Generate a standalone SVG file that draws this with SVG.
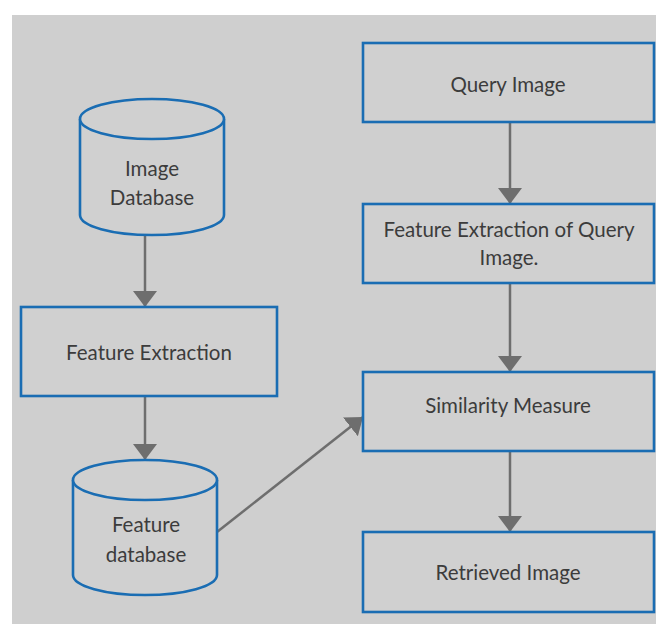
<svg xmlns="http://www.w3.org/2000/svg" width="656" height="624" viewBox="0 0 656 624">
<style>
.box{fill:#d0d0d0;stroke:#1a6db3;stroke-width:2.6}
.cyl{fill:#d0d0d0;stroke:#1a6db3;stroke-width:2.6}
.lbl{font-family:Lato,"Open Sans",sans-serif;font-size:20.5px;fill:#3c3c3c;text-anchor:middle}
.con{stroke:#6e6e6e;stroke-width:2.5;fill:none}
</style>
<defs>
<marker id="ah" viewBox="0 0 16 24" refX="16" refY="12" markerWidth="16" markerHeight="24" markerUnits="userSpaceOnUse" orient="auto">
<path d="M0,0 L16,12 L0,24 Z" fill="#6e6e6e"/>
</marker>
</defs>
<rect x="0" y="0" width="656" height="624" fill="#ffffff"/>
<rect x="12" y="15" width="644" height="609" fill="#cfcfcf"/>

<g id="connectors">
<line class="con" x1="145" y1="235" x2="145" y2="307" marker-end="url(#ah)"/>
<line class="con" x1="145" y1="396" x2="145" y2="460" marker-end="url(#ah)"/>
<line class="con" x1="217" y1="532" x2="363" y2="417" marker-end="url(#ah)"/>
<line class="con" x1="510" y1="122" x2="510" y2="204" marker-end="url(#ah)"/>
<line class="con" x1="510" y1="283" x2="510" y2="372" marker-end="url(#ah)"/>
<line class="con" x1="510" y1="451" x2="510" y2="532" marker-end="url(#ah)"/>
</g>

<g id="image-database">
<path class="cyl" d="M80,119 L80,215 A72,20 0 0 0 224,215 L224,119"/>
<ellipse class="cyl" cx="152" cy="119" rx="72" ry="20"/>
<text class="lbl" x="152" y="176">Image</text>
<text class="lbl" x="152" y="205">Database</text>
</g>

<g id="feature-extraction">
<rect class="box" x="21" y="307" width="256" height="89"/>
<text class="lbl" x="149" y="360">Feature Extraction</text>
</g>

<g id="feature-database">
<path class="cyl" d="M73,480 L73,575 A72,20 0 0 0 217,575 L217,480"/>
<ellipse class="cyl" cx="145" cy="480" rx="72" ry="20"/>
<text class="lbl" x="146" y="532">Feature</text>
<text class="lbl" x="146" y="562">database</text>
</g>

<g id="query-image">
<rect class="box" x="363" y="43" width="291" height="79"/>
<text class="lbl" x="508" y="92">Query Image</text>
</g>

<g id="feature-extraction-query">
<rect class="box" x="363" y="204" width="291" height="79"/>
<text class="lbl" x="509" y="237">Feature Extraction of Query</text>
<text class="lbl" x="509" y="265">Image.</text>
</g>

<g id="similarity-measure">
<rect class="box" x="363" y="372" width="291" height="79"/>
<text class="lbl" x="508" y="413">Similarity Measure</text>
</g>

<g id="retrieved-image">
<rect class="box" x="363" y="532" width="291" height="80"/>
<text class="lbl" x="508" y="580">Retrieved Image</text>
</g>
</svg>
